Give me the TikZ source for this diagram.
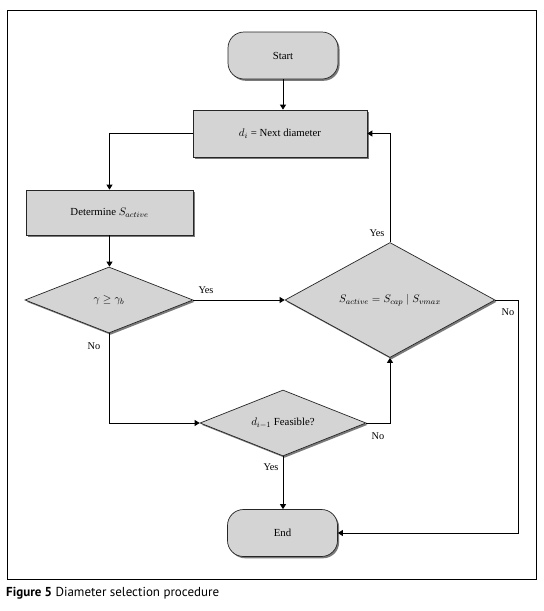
\documentclass[tikz,border=0pt]{standalone}
\usepackage{fontspec}
\setmainfont{Liberation Serif}
\newfontfamily\capfont{PT Sans}
\usetikzlibrary{shapes.geometric,arrows.meta,shadows}
\definecolor{boxgray}{RGB}{212,212,213}
\begin{document}
\begin{tikzpicture}[x=1pt,y=-1pt,
  base/.style={draw=black!85, line width=0.7pt, fill=boxgray,
    font=\fontsize{10.8}{12}\selectfont,
    drop shadow={shadow xshift=1.6pt, shadow yshift=-1.8pt, opacity=0.65, fill=black!80}},
  term/.style={base, rectangle, rounded corners=16pt, minimum width=110pt, minimum height=47pt},
  proc/.style={base, rectangle},
  dec/.style={base, diamond, inner sep=0pt},
  conn/.style={line width=0.8pt, -{Triangle[width=6pt,length=5pt]}},
  lab/.style={font=\fontsize{10.3}{11}\selectfont, inner sep=1pt}]
\path[use as bounding box, fill=white] (0,0) rectangle (544,611);
\draw[line width=0.9pt] (7,10) rectangle (536,579);

\node[term] (start) at (283,55.5) {Start};
\node[proc, minimum width=174pt, minimum height=47pt] (next) at (280,133.5) {$d_i$ = Next diameter};
\node[proc, minimum width=167pt, minimum height=45pt] (det) at (109.5,212.5) {Determine $S_{active}$};
\node[dec, minimum width=168pt, minimum height=66pt, aspect=2.55] (gam) at (109,300) {$\gamma \geq \gamma_b$};
\node[dec, minimum width=210pt, minimum height=115pt, aspect=1.83] (sac) at (390,300) {$S_{active} = S_{cap} \mid S_{vmax}$};
\node[dec, minimum width=166pt, minimum height=66pt, aspect=2.5] (feas) at (283,423) {$d_{i-1}$ Feasible?};
\node[term] (end) at (282.5,533) {End};

\draw[conn] (start.south) -- (start.south |- next.north);
\draw[conn] (next.west) -| (det.north);
\draw[conn] (det.south) -- (det.south |- gam.north);
\draw[conn] (gam.east) -- (sac.west);
\draw[conn] (gam.south) |- (feas.west);
\draw[conn] (feas.east) -| (sac.south);
\draw[conn] (feas.south) -- (feas.south |- end.north);
\draw[conn] (sac.north) |- (next.east);
\coordinate (nr) at (518,300);
\draw[conn] (sac.east) -- (nr) |- (end.east);

\node[lab] (y1) at (206,290) {Yes};
\node[lab] (n1) at (94,346) {No};
\node[lab] (y2) at (377,233) {Yes};
\node[lab] (n2) at (508,312) {No};
\node[lab] (n3) at (378,436) {No};
\node[lab] (y3) at (271,467) {Yes};

\node[anchor=west, inner sep=0pt, font=\capfont\fontsize{13}{15}\selectfont] (cap) at (6,593)
  {\textbf{Figure 5} Diameter selection procedure};
\end{tikzpicture}
\end{document}
